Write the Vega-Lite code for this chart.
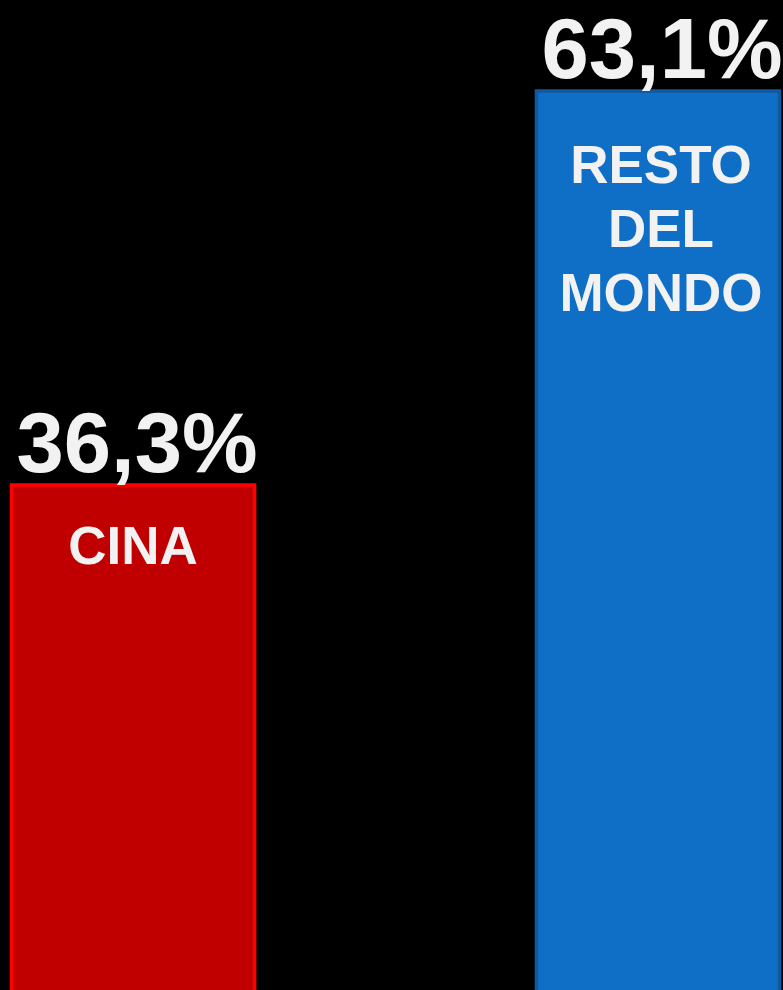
{
  "$schema": "https://vega.github.io/schema/vega-lite/v6.json",
  "autosize": {"type": "fit", "contains": "padding"},
  "width": 783,
  "height": 990,
  "padding": 0,
  "background": "#000000",
  "config": {"view": {"stroke": null}},
  "data": {"values": [
    {"cat": "CINA", "name": "CINA", "value": 36.3, "label": "36,3%"},
    {"cat": "RESTO DEL MONDO", "name": "RESTO\nDEL\nMONDO", "value": 63.1, "label": "63,1%"}
  ]},
  "encoding": {
    "x": {"field": "cat", "type": "nominal", "sort": null, "axis": null,
          "scale": {"paddingInner": 0.537, "paddingOuter": 0.01429, "align": 0.767}},
    "y": {"field": "value", "type": "quantitative", "axis": null,
          "scale": {"domain": [1.95, 69.29], "nice": false, "zero": false}}
  },
  "layer": [
    {
      "mark": {"type": "bar", "clip": true, "strokeWidth": 3.5, "strokeOpacity": 1, "opacity": 1},
      "encoding": {
        "y2": {"datum": 0},
        "color": {"field": "cat", "type": "nominal", "legend": null,
                  "scale": {"domain": ["CINA", "RESTO DEL MONDO"], "range": ["#C00000", "#0F6FC6"]}},
        "stroke": {"field": "cat", "type": "nominal", "legend": null,
                   "scale": {"domain": ["CINA", "RESTO DEL MONDO"], "range": ["#FF0000", "#11589E"]}}
      }
    },
    {
      "mark": {"type": "text", "baseline": "alphabetic", "align": "center", "dy": -13, "dx": 4,
               "font": "Liberation Sans", "fontWeight": "bold", "fontSize": 85, "color": "#F2F2F2"},
      "encoding": {"text": {"field": "label"}}
    },
    {
      "transform": [{"filter": "datum.cat == 'CINA'"}],
      "mark": {"type": "text", "baseline": "alphabetic", "align": "center", "dy": 79,
               "font": "Liberation Sans", "fontWeight": "bold", "fontSize": 53, "color": "#F2F2F2"},
      "encoding": {"text": {"field": "name"}}
    },
    {
      "transform": [{"filter": "datum.cat != 'CINA'"}],
      "mark": {"type": "text", "baseline": "alphabetic", "align": "center", "dy": 92, "dx": 3, "lineBreak": "\n", "lineHeight": 64,
               "font": "Liberation Sans", "fontWeight": "bold", "fontSize": 53, "color": "#F2F2F2"},
      "encoding": {"text": {"field": "name"}}
    }
  ]
}
